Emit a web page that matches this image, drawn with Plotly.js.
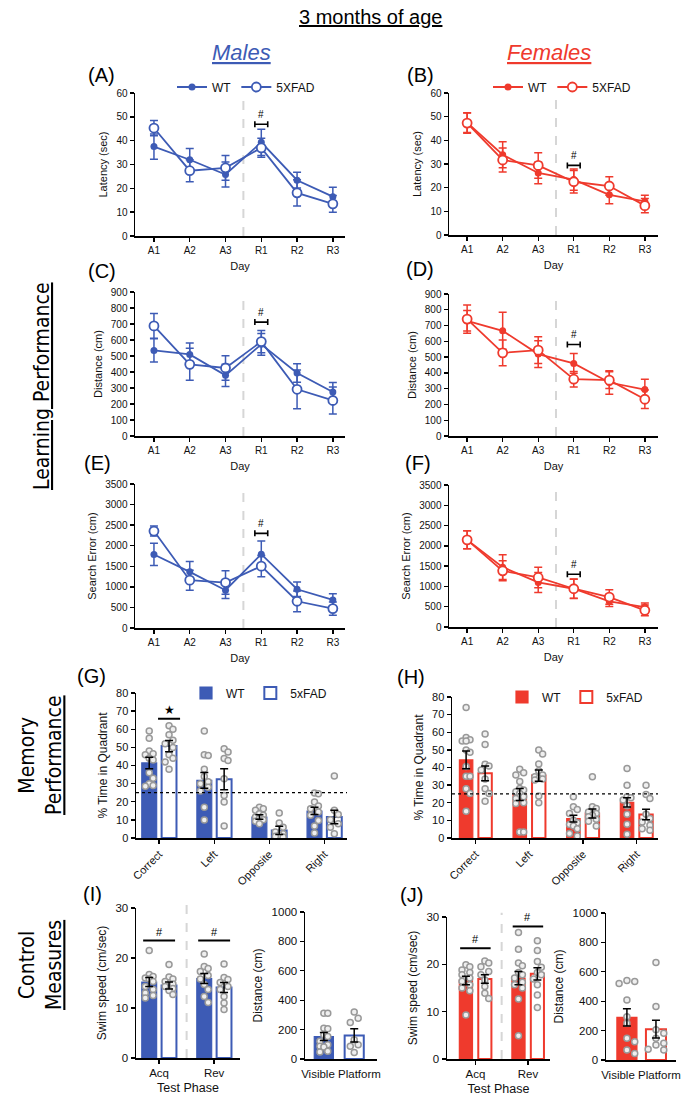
<!DOCTYPE html>
<html><head><meta charset="utf-8">
<script src="https://cdn.plot.ly/plotly-3.0.1.min.js"></script>
<style>html,body{margin:0;padding:0;background:#fff}</style>
</head><body><div id="chart" style="width:682px;height:1098px"></div>
<script>
// ---------- DATA ----------
const days = ['A1','A2','A3','R1','R2','R3'];
const quadrants = ['Correct','Left','Opposite','Right'];
const phases = ['Acq','Rev'];
const groupNames = ['WT','5XFAD'];
const barGroupNames = ['WT','5xFAD'];

// Latency (sec)
const latM_wt = [37.5,32.0,25.8,39.3,23.4,16.5], latM_wt_sem = [5.3,4.7,5.2,5.5,3.3,4.0];
const latM_5x = [45.3,27.4,28.6,37.0,18.1,13.5], latM_5x_sem = [3.2,4.6,5.2,4.0,5.5,3.5];
const latF_wt = [47.5,33.9,26.2,23.4,17.0,14.2], latF_wt_sem = [4.2,5.5,4.5,4.5,3.8,2.6];
const latF_5x = [47.3,31.7,29.4,22.5,20.7,12.4], latF_5x_sem = [4.3,5.1,5.4,4.8,3.9,3.0];
// Distance (cm)
const distM_wt = [535,510,379,573,394,275], distM_wt_sem = [73,71,69,68,58,60];
const distM_5x = [688,448,425,590,292,222], distM_5x_sem = [77,100,77,70,121,85];
const distF_wt = [730,667,519,460,339,294], distF_wt_sem = [65,117,85,63,74,66];
const distF_5x = [741,527,544,360,354,233], distF_5x_sem = [89,82,85,49,53,59];
// Search error (cm)
const errM_wt = [1787,1365,918,1795,942,682], errM_wt_sem = [270,252,203,317,179,150];
const errM_5x = [2356,1162,1105,1503,650,471], errM_5x_sem = [122,244,284,260,252,160];
const errF_wt = [2148,1475,1098,943,631,492], errF_wt_sem = [222,304,246,240,123,98];
const errF_5x = [2148,1385,1221,943,738,410], errF_5x_sem = [222,246,254,237,180,131];
// significance (#) bracket heights at R1
const sigLat = [46.9, 29.4], sigDist = [712, 580], sigErr = [2300, 1300];

// Probe: % time in quadrant
const memM_wt = [41.4,31.8,11.6,14.9], memM_wt_sem = [3.2,4.4,1.2,2.0];
const memM_5x = [50.7,32.4,4.2,11.6],  memM_5x_sem = [3.1,5.8,2.3,3.7];
const memF_wt = [44.3,24.7,11.0,20.2], memF_wt_sem = [5.0,3.4,1.9,2.6];
const memF_5x = [36.7,35.4,13.9,13.3], memF_5x_sem = [4.2,3.2,2.6,3.0];
const memM_wt_pts = [[59,55,48,46.5,46,44,43,36,33,30,29,28.5],[59,46,45.5,38,34,31,30,28,26,17,10],[17,16.2,15.3,13.4,12.5,11.6,10.7,10.1,9.2,7.9],[24.8,24.4,19.9,17.6,16.2,14.3,12.5,9.7,6.6,2.8]];
const memM_5x_pts = [[62,60,57,54,52,50,46,44,42,38],[49.3,47.4,43.8,42.8,32.7,23.5,19.9,6.6],[13.8,8.3,6,3.3,2.4,1.5,0.9,0.5],[34.2,15.3,12.9,10.1,7.9,6,2.4]];
const memF_wt_pts = [[74,57,55.7,55,55,50,48.7,40.5,35,35,28,25.3,15.2],[39,37,35.7,32,28.1,27.2,26.2,25.3,23.4,22.4,20,19.6,3.4,3.4],[23.4,17.7,16.2,13.9,10.1,8.7,7.6,6.8,5.3,2.5,1.1],[39.5,30,23.4,22.8,21.5,18.3,13.5,7.8,2.1]];
const memF_5x_pts = [[59,53,41.8,40.9,38.6,33.5,28,25.3,20.9],[50,47.7,42,38.2,35.7,34.8,33.8,33.5,32.9,23.8,20],[34.8,17.7,16.7,14.8,13.9,12.9,12,10.6,9.5,6.8],[30,24.7,22.4,13.5,11,9.1,7.2,5.3,4.4]];
const chanceLevel = 25;
const sigStarM = 65.8;

// Swim speed (cm/sec)
const spdM_wt = [15.2,15.9], spdM_wt_sem = [0.9,1.0];
const spdM_5x = [14.5,14.1], spdM_5x_sem = [0.7,1.0];
const spdF_wt = [16.6,17.1], spdF_wt_sem = [0.9,1.4];
const spdF_5x = [16.9,18.0], spdF_5x_sem = [0.9,1.3];
const spdM_wt_pts = [[21.5,16.7,16.3,16,15.8,15.3,14.3,13.7,13,12.5,12],[20.8,18.3,17.9,17.3,16.5,15.8,14.7,13.7,12.3,11.1]];
const spdM_5x_pts = [[18.7,16.2,15.8,15.3,14.8,14.3,13.9,13.5,12.7],[18.8,16.1,15.7,15.1,14.3,13.7,12.3,11,9.7]];
const spdF_wt_pts = [[19.9,19.5,18.8,18.3,17.8,17.1,16.4,15.7,15,14.4,9.3],[26.7,23.2,20.3,19.7,18.3,17.8,17.1,16.2,15.7,15,12.7,4.9]];
const spdF_5x_pts = [[20.7,20.3,19.5,18.5,17.8,16.7,15.3,13.9,12.8],[25,22.9,20.6,19.4,18.3,17.8,16.9,15.7,13.5,10.9]];
const sigSpdM = [23.5,23.5], sigSpdF = [23.4,28.0];

// Visible platform distance (cm)
const visM = [153,160], visM_sem = [28,45];
const visF = [290,210], visF_sem = [58,60];
const visM_pts = [[311,311,210,205,165,153,120,97,86,81,52,47],[320,278,248,131,97,86,45]];
const visF_pts = [[540,534,520,409,295,250,148,125,68,45],[664,364,205,182,148,114,102,73,68]];

// ---------- STYLE / LAYOUT HELPERS ----------
const W=682, H=1098;
const BLUE='#3d5bb5', RED='#ef3a2d';
const FONT='Liberation Sans, Arial, sans-serif';
const NARROW='Liberation Sans Narrow, DejaVu Sans Condensed, Liberation Sans, sans-serif';
const X=(a,b)=>[a/W,b/W];
const Y=(t,b)=>[1-b/H,1-t/H];
const traces=[]; const shapes=[]; const annotations=[];
const layout={width:W,height:H,margin:{l:0,r:0,t:0,b:0},paper_bgcolor:'#fff',plot_bgcolor:'rgba(0,0,0,0)',
  font:{family:FONT,color:'#111'},barmode:'overlay',showlegend:true,hovermode:false};

function axBase(extra){
  return Object.assign({showline:true,linecolor:'#000',linewidth:1.5,ticks:'outside',ticklen:4,tickwidth:1.4,
    tickcolor:'#000',showgrid:false,zeroline:false,tickfont:{size:10,color:'#111'},automargin:false,fixedrange:true},extra);
}
function setAxes(n,xd,yd,xextra,yextra){
  const xs = n===1?'':String(n);
  layout['xaxis'+xs]=axBase(Object.assign({domain:xd,anchor:'y'+xs},xextra));
  layout['yaxis'+xs]=axBase(Object.assign({domain:yd,anchor:'x'+xs},yextra));
  return ['x'+xs,'y'+xs];
}

function linePanel(n,xd,yd,xr,yr,dtick,ytitle,wt,wtS,fx,fxS,color,sigY,legend){
  const [xa,ya]=setAxes(n,xd,yd,
    {range:xr,tickvals:days.map((_,i)=>i),ticktext:days,title:{text:'Day',font:{size:11},standoff:8}},
    {range:yr,dtick:dtick,title:{text:ytitle,font:{size:11},standoff:6}});
  const xi=days.map((_,i)=>i);
  shapes.push({type:'line',xref:xa,yref:ya+' domain',x0:2.5,x1:2.5,y0:0,y1:1,layer:'below',line:{color:'#d6d6d6',width:2,dash:'dash'}});
  traces.push({type:'scatter',x:xi,y:wt,xaxis:xa,yaxis:ya,mode:'lines+markers',name:groupNames[0],legend:legend,showlegend:!!legend,
    line:{color:color,width:1.8},marker:{color:color,size:7,symbol:'circle'},
    error_y:{type:'data',array:wtS,color:color,thickness:1.5,width:4}});
  traces.push({type:'scatter',x:xi,y:fx,xaxis:xa,yaxis:ya,mode:'lines+markers',name:groupNames[1],legend:legend,showlegend:!!legend,
    line:{color:color,width:1.8},marker:{color:'#fff',size:9,symbol:'circle',line:{color:color,width:1.8}},
    error_y:{type:'data',array:fxS,color:color,thickness:1.5,width:4}});
  traces.push({type:'scatter',x:[3],y:[sigY],xaxis:xa,yaxis:ya,mode:'markers',showlegend:false,
    marker:{size:1,color:'rgba(0,0,0,0)'},error_x:{type:'constant',value:0.18,color:'#000',thickness:1.6,width:3}});
  annotations.push({xref:xa,yref:ya,x:3,y:sigY,text:'#',showarrow:false,yanchor:'bottom',yshift:2,font:{size:10,color:'#000'}});
}

function swarm(vals,cx,pxX,pxY,d,maxOff){
  const placed=[]; const xs=[];
  const cands=[0]; for(let k=1;k<=4;k++){const o=k*d*0.6; if(o<=maxOff){cands.push(o,-o);} }
  vals.forEach(v=>{
    const py=v*pxY; let best=0, bestD=-1;
    for(const c of cands){
      const md=placed.reduce((m,p)=>Math.min(m,Math.hypot(p[0]-c,p[1]-py)),1e9);
      if(md>=d){best=c;bestD=1e9;break;}
      if(md>bestD){bestD=md;best=c;}
    }
    placed.push([best,py]); xs.push(cx+best/pxX);
  });
  return xs;
}

function barSet(xa,ya,centers,vals,sems,pts,color,filled,name,legend,width,pxX,pxY){
  traces.push({type:'bar',x:centers,y:vals,width:width,xaxis:xa,yaxis:ya,name:name,legend:legend,showlegend:!!legend,
    marker:{color:filled?color:'#fff',line:{color:color,width:filled?1.2:2}}});
  const px=[],py=[];
  pts.forEach((arr,i)=>{const xs=swarm(arr,centers[i],pxX,pxY,6.5,width*pxX/2-2); xs.forEach((x,j)=>{px.push(x);py.push(arr[j]);});});
  traces.push({type:'scatter',mode:'markers',x:px,y:py,xaxis:xa,yaxis:ya,showlegend:false,
    marker:{size:6,color:'#efefef',line:{color:'#999',width:1.5}}});
  traces.push({type:'scatter',mode:'markers',x:centers,y:vals,xaxis:xa,yaxis:ya,showlegend:false,
    marker:{size:1,color:'rgba(0,0,0,0)'},error_y:{type:'data',array:sems,color:'#000',thickness:1.5,width:4}});
}
function sigLine(xa,ya,x,y,half,txt,fs){
  traces.push({type:'scatter',x:[x],y:[y],xaxis:xa,yaxis:ya,mode:'markers',showlegend:false,
    marker:{size:1,color:'rgba(0,0,0,0)'},error_x:{type:'constant',value:half,color:'#000',thickness:2,width:0}});
  annotations.push({xref:xa,yref:ya,x:x,y:y,text:txt,showarrow:false,yanchor:'bottom',yshift:1,font:{size:fs,color:'#000'}});
}

// ---------- LEARNING PANELS ----------
const xrM=[-0.53,5.34], xrF=[-0.51,5.37];
linePanel(1,X(135,345),Y(93,236),xrM,[0,60],10,'Latency (sec)',latM_wt,latM_wt_sem,latM_5x,latM_5x_sem,BLUE,sigLat[0],'legend');
linePanel(2,X(449,658),Y(93,235),xrF,[0,60],10,'Latency (sec)',latF_wt,latF_wt_sem,latF_5x,latF_5x_sem,RED,sigLat[1],'legend2');
linePanel(3,X(135,345),Y(292,436),xrM,[0,900],100,'Distance (cm)',distM_wt,distM_wt_sem,distM_5x,distM_5x_sem,BLUE,sigDist[0],null);
linePanel(4,X(449,658),Y(294,436),xrF,[0,900],100,'Distance (cm)',distF_wt,distF_wt_sem,distF_5x,distF_5x_sem,RED,sigDist[1],null);
linePanel(5,X(135,345),Y(484,628),xrM,[0,3500],500,'Search Error (cm)',errM_wt,errM_wt_sem,errM_5x,errM_5x_sem,BLUE,sigErr[0],null);
linePanel(6,X(449,658),Y(485,627),xrF,[0,3500],500,'Search Error (cm)',errF_wt,errF_wt_sem,errF_5x,errF_5x_sem,RED,sigErr[1],null);

// ---------- MEMORY PANELS ----------
function memPanel(n,xd,yd,xr,wt,wtS,fx,fxS,wtP,fxP,color,legend,off,bw,pxX,pxY){
  const [xa,ya]=setAxes(n,xd,yd,
    {range:xr,tickvals:quadrants.map((_,i)=>i),ticktext:quadrants,tickangle:-45,tickfont:{size:11,color:'#111'}},
    {range:[0,80],dtick:10,tickfont:{size:11,color:'#111'},title:{text:'% Time in Quadrant',font:{size:12},standoff:6}});
  shapes.push({type:'line',xref:xa+' domain',yref:ya,x0:0,x1:1,y0:chanceLevel,y1:chanceLevel,line:{color:'#000',width:1.3,dash:'dot'}});
  const idx=quadrants.map((_,i)=>i);
  barSet(xa,ya,idx.map(i=>i-off),wt,wtS,wtP,color,true,barGroupNames[0],legend,bw,pxX,pxY);
  barSet(xa,ya,idx.map(i=>i+off),fx,fxS,fxP,color,false,barGroupNames[1],legend,bw,pxX,pxY);
  return [xa,ya];
}
const [gx,gy]=memPanel(7,X(136,347),Y(693,838),[-0.42,3.41],memM_wt,memM_wt_sem,memM_5x,memM_5x_sem,memM_wt_pts,memM_5x_pts,BLUE,'legend3',0.18,0.27,55,145/80);
memPanel(8,X(452,658),Y(697,838),[-0.44,3.40],memF_wt,memF_wt_sem,memF_5x,memF_5x_sem,memF_wt_pts,memF_5x_pts,RED,'legend4',0.177,0.25,53.7,141/80);
// star over 5xFAD correct
traces.push({type:'scatter',x:[0.18],y:[sigStarM],xaxis:gx,yaxis:gy,mode:'markers',showlegend:false,
  marker:{size:1,color:'rgba(0,0,0,0)'},error_x:{type:'constant',value:0.2,color:'#000',thickness:2,width:0}});
annotations.push({xref:gx,yref:gy,x:0.18,y:sigStarM,text:'★',showarrow:false,yanchor:'bottom',yshift:0,font:{size:12,color:'#000',family:'DejaVu Sans'}});

// ---------- CONTROL PANELS ----------
function speedPanel(n,xd,yd,xr,wt,wtS,fx,fxS,wtP,fxP,color,off,bw,pxX,pxY,sig){
  const [xa,ya]=setAxes(n,xd,yd,
    {range:xr,tickvals:phases.map((_,i)=>i),ticktext:phases,tickfont:{size:11.5,color:'#111'},title:{text:'Test Phase',font:{size:12.5},standoff:5}},
    {range:[0,30],dtick:10,tickfont:{size:11.5,color:'#111'},title:{text:'Swim speed (cm/sec)',font:{size:12},standoff:6}});
  shapes.push({type:'line',xref:xa,yref:ya+' domain',x0:0.5,x1:0.5,y0:0,y1:1.03,layer:'below',line:{color:'#d6d6d6',width:2,dash:'dash'}});
  const idx=phases.map((_,i)=>i);
  barSet(xa,ya,idx.map(i=>i-off),wt,wtS,wtP,color,true,barGroupNames[0],null,bw,pxX,pxY);
  barSet(xa,ya,idx.map(i=>i+off),fx,fxS,fxP,color,false,barGroupNames[1],null,bw,pxX,pxY);
  idx.forEach(i=>sigLine(xa,ya,i,sig[i],0.29,'#',11));
}
function visPanel(n,xd,yd,xr,vals,sems,pts,color,bw,pxX,pxY){
  const [xa,ya]=setAxes(n,xd,yd,
    {range:xr,showticklabels:false,ticks:'',title:{text:'Visible Platform',font:{size:11.5},standoff:10}},
    {range:[0,1000],dtick:200,tickfont:{size:11.5,color:'#111'},title:{text:'Distance (cm)',font:{size:12},standoff:6}});
  barSet(xa,ya,[0],[vals[0]],[sems[0]],[pts[0]],color,true,'WT',null,bw,pxX,pxY);
  barSet(xa,ya,[1],[vals[1]],[sems[1]],[pts[1]],color,false,'5xFAD',null,bw,pxX,pxY);
}
speedPanel(9,X(136,240),Y(908,1058),[-0.42,1.47],spdM_wt,spdM_wt_sem,spdM_5x,spdM_5x_sem,spdM_wt_pts,spdM_5x_pts,BLUE,0.18,0.27,55,150/30,sigSpdM);
visPanel(10,X(305,377),Y(912,1059),[-0.62,1.75],visM,visM_sem,visM_pts,BLUE,0.63,30,147/1000);
speedPanel(11,X(447,550),Y(917,1059),[-0.54,1.42],spdF_wt,spdF_wt_sem,spdF_5x,spdF_5x_sem,spdF_wt_pts,spdF_5x_pts,RED,0.18,0.25,52.5,142/30,sigSpdF);
visPanel(12,X(606,676),Y(913,1060),[-0.72,1.69],visF,visF_sem,visF_pts,RED,0.69,29,147/1000);

// ---------- LEGENDS ----------
const legBase={orientation:'h',xanchor:'left',yanchor:'middle',bgcolor:'rgba(0,0,0,0)',font:{size:12,color:'#111'},itemwidth:30,tracegroupgap:0};
layout.legend =Object.assign({},legBase,{x:172/W,y:1-87/H});
layout.legend2=Object.assign({},legBase,{x:488/W,y:1-87/H});
layout.legend3=Object.assign({},legBase,{x:186/W,y:1-693/H});
layout.legend4=Object.assign({},legBase,{x:502/W,y:1-697/H});

// ---------- TEXT ----------
function txt(x,y,t,size,color,extra){annotations.push(Object.assign({xref:'paper',yref:'paper',x:x/W,y:1-y/H,text:t,showarrow:false,
  xanchor:'center',yanchor:'middle',font:{size:size,color:color||'#000'}},extra||{}));}
txt(370,17,'<u>3 months of age</u>',20,'#000');
txt(241,52,'<u><i>Males</i></u>',22,BLUE);
txt(549,52,'<u><i>Females</i></u>',22,RED);
[['(A)',101,75],['(B)',420,75],['(C)',102,271],['(D)',420,269],['(E)',97,463],['(F)',418,463],
 ['(G)',91,676],['(H)',411,677],['(I)',92,894],['(J)',411,895]].forEach(([t,x,y])=>txt(x,y,t,20,'#000'));
txt(42,386,'<u>Learning Performance</u>',21,'#000',{textangle:-90,font:{size:21,color:'#000',family:NARROW}});
txt(40,755,'Memory<br><u>Performance</u>',21,'#000',{textangle:-90,font:{size:21,color:'#000',family:NARROW}});
txt(40,965,'Control<br><u>Measures</u>',21,'#000',{textangle:-90,font:{size:21,color:'#000',family:NARROW}});

layout.shapes=shapes; layout.annotations=annotations;
Plotly.newPlot('chart',traces,layout,{staticPlot:true,displayModeBar:false});
</script></body></html>
